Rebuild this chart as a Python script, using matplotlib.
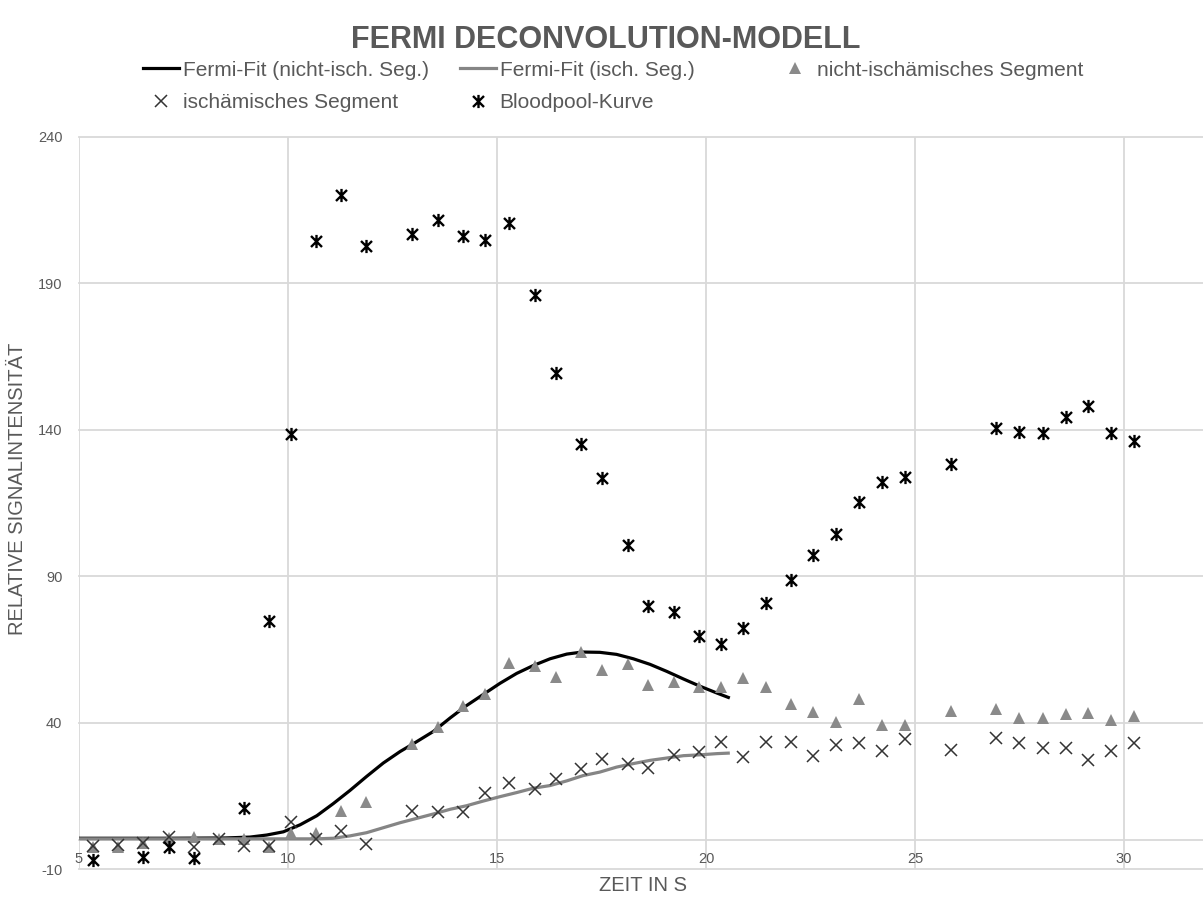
import numpy as np
import matplotlib
matplotlib.use("Agg")
import matplotlib.pyplot as plt
from matplotlib.lines import Line2D
from matplotlib.path import Path

plt.rcParams["font.family"] = ["Liberation Sans", "DejaVu Sans"]
plt.rcParams["axes.unicode_minus"] = False

# -----------------
# DATA (read off)
# -----------------
# time points of the segment curves (s)
seg_time = [5.33, 5.93, 6.53, 7.15, 7.75, 8.35, 8.95, 9.55, 10.07, 10.67,
            11.27, 11.87, 12.97, 13.59, 14.19, 14.71, 15.29, 15.91, 16.41, 17.01,
            17.51, 18.13, 18.61, 19.23, 19.83, 20.36, 20.89, 21.44, 22.03, 22.56,
            23.11, 23.66, 24.21, 24.76, 25.86, 26.94, 27.49, 28.06, 28.61, 29.14,
            29.69, 30.24]

nonisch_seg = [-2.4, -2.5, -1.1, 0.5, 1.0, 0.3, 0.3, -2.5, 2.3, 2.3,
               9.9, 12.9, 32.8, 38.6, 45.5, 49.9, 60.2, 59.5, 55.7, 64.0,
               57.8, 59.9, 52.7, 54.0, 52.0, 52.3, 55.4, 52.3, 46.5, 43.6,
               40.3, 47.9, 39.3, 39.3, 43.8, 44.8, 41.7, 41.7, 43.1, 43.4,
               41.0, 42.1]

isch_seg = [-2.1, -1.8, -1.1, 1.0, -2.5, 0.3, -2.1, -2.1, 6.1, 0.3,
            3.0, -1.4, 9.9, 9.5, 9.5, 16.0, 19.5, 17.4, 20.8, 24.2,
            27.7, 26.0, 24.6, 29.0, 30.1, 33.5, 28.4, 33.5, 33.5, 28.7,
            32.5, 33.2, 30.4, 34.3, 30.8, 34.9, 33.2, 31.4, 31.4, 27.3,
            30.4, 33.2]

# bloodpool curve
bp_time = [5.33, 6.53, 7.15, 7.75, 8.95, 9.55, 10.07, 10.67, 11.27, 11.87,
           12.97, 13.59, 14.19, 14.71, 15.29, 15.91, 16.41, 17.01, 17.51, 18.13,
           18.61, 19.23, 19.83, 20.36, 20.89, 21.44, 22.03, 22.56, 23.11, 23.66,
           24.21, 24.76, 25.86, 26.94, 27.49, 28.06, 28.61, 29.14, 29.69, 30.24]
bp_signal = [-6.9, -5.9, -2.5, -6.2, 10.9, 74.6, 138.6, 204.4, 220.1, 202.9,
             206.8, 211.6, 206.1, 204.8, 210.5, 185.9, 159.5, 135.0, 123.6, 100.7,
             79.7, 77.7, 69.5, 66.7, 72.2, 80.8, 88.6, 97.2, 104.4, 115.4,
             122.3, 124.0, 128.4, 140.7, 139.3, 139.0, 144.5, 148.2, 139.0, 136.3]

# fermi fit curves
fit_nonisch_t = [5.0, 7.0, 8.5, 9.09, 9.49, 9.89, 10.29, 10.69, 11.08, 11.48,
                 11.88, 12.28, 12.68, 13.0, 13.48, 13.88, 14.27, 14.67, 15.07, 15.47,
                 15.87, 16.27, 16.67, 17.04, 17.46, 17.86, 18.26, 18.66, 19.06, 19.46,
                 19.86, 20.26, 20.57]
fit_nonisch_y = [0.5, 0.5, 0.6, 0.9, 1.6, 2.7, 5.1, 8.2, 12.3, 16.8,
                 21.6, 26.2, 30.1, 32.8, 37.0, 41.6, 45.8, 49.6, 53.4, 56.8,
                 59.5, 61.8, 63.4, 64.1, 64.0, 63.3, 61.8, 59.9, 57.5, 54.9,
                 52.4, 50.1, 48.4]

fit_isch_t = [5.0, 10.1, 10.67, 11.08, 11.48, 11.88, 12.28, 12.68, 13.08, 13.48,
              13.88, 14.27, 14.67, 15.07, 15.47, 15.87, 16.27, 16.67, 17.06, 17.46,
              17.86, 18.26, 18.66, 19.06, 19.46, 19.86, 20.26, 20.57]
fit_isch_y = [0.3, 0.3, 0.3, 0.5, 1.3, 2.4, 4.1, 5.8, 7.3, 8.8,
              10.4, 11.6, 13.2, 14.7, 16.1, 17.6, 18.5, 20.1, 21.9, 23.1,
              24.8, 26.0, 27.1, 27.9, 28.7, 29.0, 29.4, 29.6]

labels = ["Fermi-Fit (nicht-isch. Seg.)", "Fermi-Fit (isch. Seg.)",
          "nicht-ischämisches Segment", "ischämisches Segment", "Bloodpool-Kurve"]

# -------------
# STYLE
# -------------
W, H = 1203, 897
TXT = "#595959"
GRID = "#d9d9d9"
GRAY = "#8a8a8a"

# asterisk marker: x plus vertical bar
star = Path([(-1, -1), (1, 1), (-1, 1), (1, -1), (0, -1.2), (0, 1.2)],
            [Path.MOVETO, Path.LINETO] * 3)

fig = plt.figure(figsize=(W / 100, H / 100), dpi=100)
ax = fig.add_axes([79 / W, 28 / H, 1128.6 / W, 732 / H])

# -------------
# DRAW
# -------------
ax.plot(fit_nonisch_t, fit_nonisch_y, color="black", lw=2.3, zorder=3,
        solid_capstyle="butt")
ax.plot(fit_isch_t, fit_isch_y, color="#858585", lw=2.3, zorder=3,
        solid_capstyle="butt")
ax.plot(seg_time, nonisch_seg, ls="none", marker="^", ms=9, color=GRAY,
        mew=0, zorder=4)
ax.plot(seg_time, isch_seg, ls="none", marker="x", ms=8, color="#333333",
        mew=1.1, zorder=5)
ax.plot(bp_time, bp_signal, ls="none", marker=star, ms=9.5, color="black",
        mec="black", mew=1.7, zorder=6)

ax.set_xlim(5, 32)
ax.set_ylim(-10, 240)
ax.set_xticks(np.arange(5, 31, 5))
ax.set_yticks(np.arange(-10, 241, 50))
ax.grid(True, color=GRID, lw=1.3)
for gl in ax.get_xgridlines() + ax.get_ygridlines():
    gl.set_clip_on(False)
ax.set_axisbelow(True)

for s in ["top", "right", "left"]:
    ax.spines[s].set_visible(False)
ax.spines["bottom"].set_position(("data", 0))
ax.spines["bottom"].set_color(GRID)
ax.spines["bottom"].set_linewidth(1.3)
ax.tick_params(axis="both", length=0, labelsize=10.5, labelcolor=TXT)
ax.tick_params(axis="x", pad=9)
ax.tick_params(axis="y", pad=12)

# titles
fig.text(606 / W, 1 - 40 / H, "FERMI DECONVOLUTION-MODELL", ha="center",
         va="center", fontsize=22, fontweight="bold", color=TXT)
fig.text(643 / W, 1 - 885 / H, "ZEIT IN S", ha="center", va="center",
         fontsize=14.5, color=TXT)
fig.text(18 / W, 1 - 489 / H, "RELATIVE SIGNALINTENSITÄT", ha="center",
         va="center", rotation=90, fontsize=14.5, color=TXT)

# -------------
# LEGEND (one box per entry, Excel grid layout)
# -------------
handles = [
    Line2D([], [], color="black", lw=2.3),
    Line2D([], [], color="#858585", lw=2.3),
    Line2D([], [], ls="none", marker="^", ms=9, color=GRAY, mew=0),
    Line2D([], [], ls="none", marker="x", ms=8, color="#333333", mew=1.1),
    Line2D([], [], ls="none", marker=star, ms=9.5, color="black", mew=1.7),
]
spots = [(143, 70), (460, 70), (777, 70), (143, 103), (460, 103)]
for h, lab, (px, py) in zip(handles, labels, spots):
    fig.legend([h], [lab], loc="center left", bbox_to_anchor=(px / W, 1 - py / H),
               frameon=False, fontsize=15, labelcolor=TXT, handlelength=1.75,
               handletextpad=0.15, borderpad=0, borderaxespad=0, numpoints=1)

fig.savefig("out.png", dpi=100)
